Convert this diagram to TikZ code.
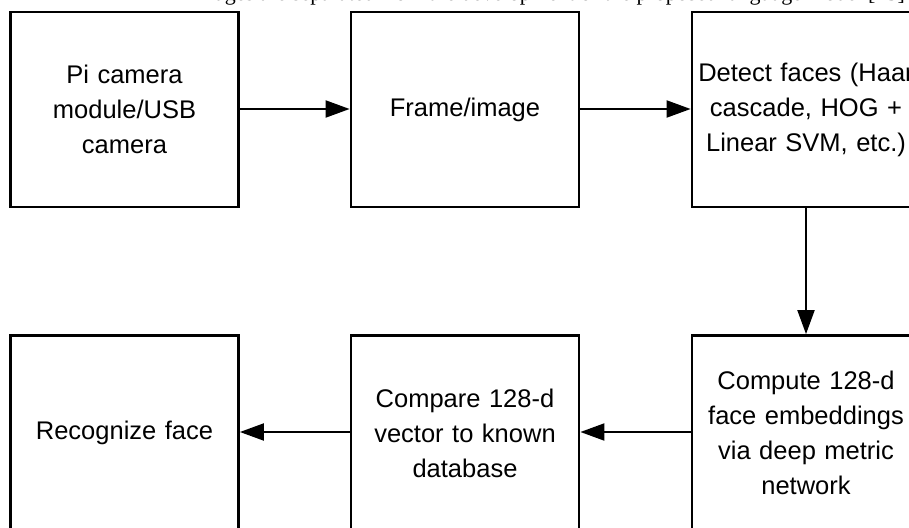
\documentclass[tikz,border=0pt]{standalone}
\usepackage{fontspec}
\setmainfont{Liberation Sans}
\newfontfamily\captionserif{Liberation Serif}
\usetikzlibrary{arrows.meta}
\tikzset{
  flowbox/.style={draw=black, line width=2.8pt, minimum width=228pt, minimum height=195pt,
    inner sep=0pt, align=center, font=\fontsize{25.5}{35}\selectfont, text width=228pt},
  flowarrow/.style={draw=black, line width=2pt, -{Triangle[length=24pt,width=17pt]}}
}
\begin{document}
\begin{tikzpicture}[x=1pt,y=-1pt]
\useasboundingbox (0,0) rectangle (909,527);
\clip (0,0) rectangle (909,527);
\fill[white] (0,0) rectangle (909,527);
% clipped caption line at the very top
\node[anchor=base east, inner sep=0pt, font=\captionserif\fontsize{22}{26}\selectfont] (cap) at (905,1)
  {Images are separated from the development of the proposed language model [15]};
% boxes
\node[flowbox] (cam) at (124.5,109.5) {Pi camera\\module/USB\\camera};
\node[flowbox] (frame) at (465,109.5) {Frame/image};
\node[flowbox] (detect) at (806,109.5) {Detect faces (Haar\\cascade, HOG +\\Linear SVM, etc.)};
\node[flowbox] (embed) at (806,433) {Compute 128-d\\face embeddings\\via deep metric\\network};
\node[flowbox] (compare) at (465,433) {Compare 128-d\\vector to known\\database};
\node[flowbox] (recog) at (124.5,433) {Recognize face};
% connectors
\draw[flowarrow] (cam.east |- 0,109) -- (frame.west |- 0,109);
\draw[flowarrow] (frame.east |- 0,109) -- (detect.west |- 0,109);
\draw[flowarrow] (detect.south) -- (embed.north);
\draw[flowarrow] (embed.west |- 0,432) -- (compare.east |- 0,432);
\draw[flowarrow] (compare.west |- 0,432) -- (recog.east |- 0,432);
\end{tikzpicture}
\end{document}
